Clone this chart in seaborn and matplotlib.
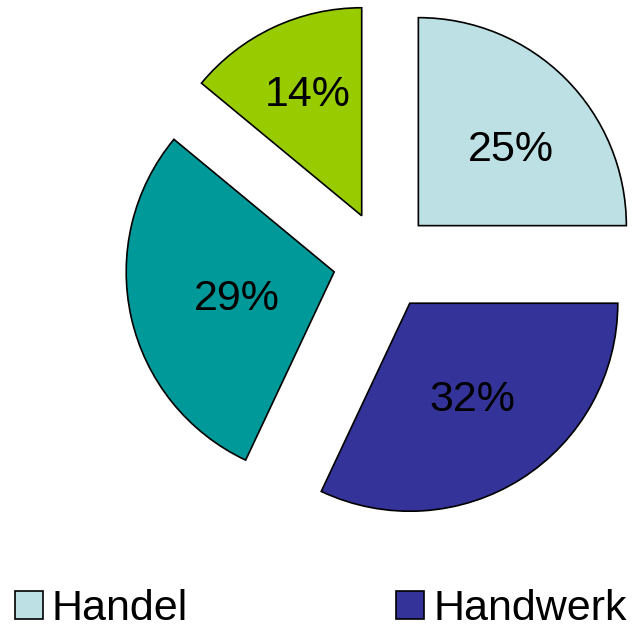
import matplotlib
matplotlib.use("Agg")
import matplotlib.pyplot as plt
import seaborn as sns
from matplotlib.patches import Patch

sns.set_theme(style="white")
plt.rcParams['font.family'] = ['Liberation Sans', 'DejaVu Sans']

# --- data ---
categories = ["Handel", "Handwerk", "Bereich 3", "Bereich 4"]
shares = [25, 32, 29, 14]
colors = ["#BCE0E3", "#333399", "#009999", "#99CC00"]
legend_shown = ["Handel", "Handwerk"]

W, H = 636, 630
fig = plt.figure(figsize=(W / 100, H / 100), dpi=100)
ax = fig.add_axes([0, 0, 1, 1])

# explode is in data units here (axes are in pixels)
wedges, texts, autotexts = ax.pie(
    shares,
    colors=colors,
    startangle=90,
    counterclock=False,
    explode=[50] * len(shares),
    center=(383, H - 261),
    radius=208,
    autopct='%1.0f%%',
    pctdistance=0.57,
    wedgeprops=dict(edgecolor='black', linewidth=1.2),
    textprops=dict(fontsize=31, color='black'),
    frame=True,
)
# small nudges so the labels sit like in the original
nudges = [(9, -8), (-1, 3), (18, -1), (-4, 13)]
for t, (dx, dy) in zip(autotexts, nudges):
    x, y = t.get_position()
    t.set_position((x + dx, y + dy))

ax.set_xlim(0, W)
ax.set_ylim(0, H)
ax.set_aspect('equal')
ax.axis('off')

handles = [Patch(facecolor=colors[categories.index(c)], edgecolor='black', linewidth=1.2)
           for c in legend_shown]
fig.legend(handles, legend_shown, loc='center left', bbox_to_anchor=(0.003, 1 - 609 / H),
           ncol=2, frameon=False, fontsize=31, handlelength=0.65, handleheight=0.65,
           handletextpad=0.2, columnspacing=4.85, borderaxespad=0, borderpad=0.3,
           labelcolor='black')

fig.savefig("out.png", dpi=100)
